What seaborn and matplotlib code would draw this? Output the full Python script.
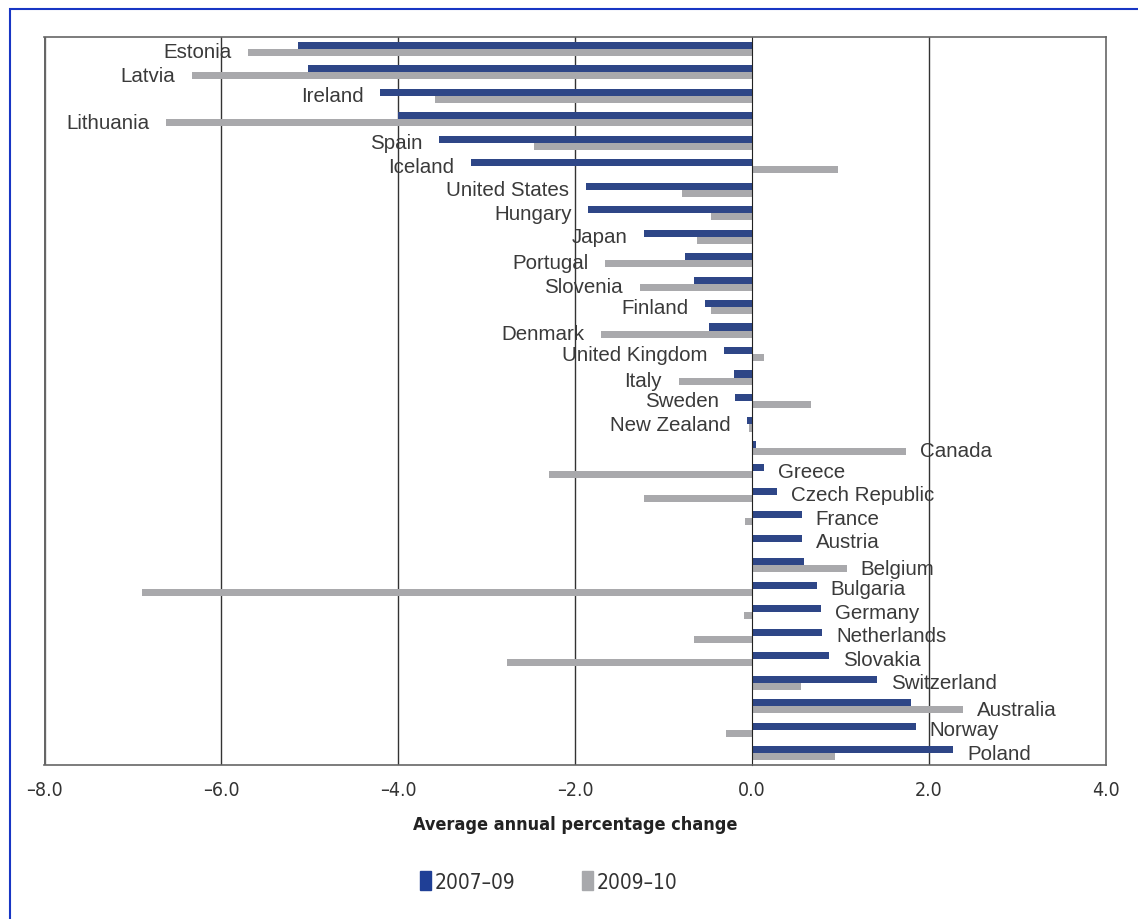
import numpy as np
import pandas as pd
import matplotlib
matplotlib.use("Agg")
import matplotlib.pyplot as plt
import seaborn as sns
from matplotlib.patches import Rectangle
from matplotlib import font_manager

# values (average annual % change)
countries = ["Estonia", "Latvia", "Ireland", "Lithuania", "Spain", "Iceland",
             "United States", "Hungary", "Japan", "Portugal", "Slovenia", "Finland",
             "Denmark", "United Kingdom", "Italy", "Sweden", "New Zealand", "Canada",
             "Greece", "Czech Republic", "France", "Austria", "Belgium", "Bulgaria",
             "Germany", "Netherlands", "Slovakia", "Switzerland", "Australia",
             "Norway", "Poland"]
chg_0709 = [-5.13, -5.02, -4.20, -4.00, -3.54, -3.18, -1.88, -1.85, -1.22, -0.76,
            -0.66, -0.53, -0.49, -0.32, -0.20, -0.19, -0.06, 0.04, 0.14, 0.28,
            0.56, 0.56, 0.59, 0.73, 0.78, 0.79, 0.87, 1.41, 1.79, 1.85, 2.27]
chg_0910 = [-5.69, -6.33, -3.58, -6.62, -2.46, 0.97, -0.79, -0.47, -0.62, -1.66,
            -1.27, -0.47, -1.71, 0.14, -0.83, 0.67, -0.04, 1.74, -2.30, -1.22,
            -0.08, 0.01, 1.07, -6.89, -0.09, -0.66, -2.77, 0.55, 2.38, -0.30, 0.94]
periods = ["2007\u201309", "2009\u201310"]
colors = ["#1f3f96", "#a8a9ac"]

df = pd.DataFrame({"country": countries * 2,
                   "change": chg_0709 + chg_0910,
                   "period": [periods[0]] * len(countries) + [periods[1]] * len(countries)})

sns.set_style("white")
plt.rcParams["font.family"] = ["Liberation Sans", "DejaVu Sans"]

# narrow face for the axis text, if there is one
names = {f.name for f in font_manager.fontManager.ttflist}
narrow = "Liberation Sans Narrow" if "Liberation Sans Narrow" in names else "DejaVu Sans"
cond = dict(family=narrow, stretch="condensed")

fig = plt.figure(figsize=(11.38, 9.2), dpi=100)
ax = fig.add_axes([0.0387, 0.1674, 0.9333, 0.7913])

sns.barplot(data=df, y="country", x="change", hue="period", hue_order=periods,
            palette=colors, orient="h", width=0.6, linewidth=0, ax=ax)

ax.set_xlim(-8, 4)
ax.set_ylim(len(countries) - 0.5, -0.5)
ax.set_xticks(np.arange(-8, 4.1, 2))
ax.set_xticklabels([f"{v:.1f}".replace("-", "\u2013") for v in np.arange(-8, 4.1, 2)],
                   fontsize=14, color="#333333", **cond)
ax.tick_params(axis="x", direction="out", length=5, width=1, color="#555555", pad=6)

# y axis sits on zero with ticks between categories
ax.spines["left"].set_position(("data", 0))
ax.spines["left"].set_color("#222222")
ax.set_yticks(np.arange(-0.5, len(countries), 1))
ax.set_yticklabels([])
ax.tick_params(axis="y", direction="out", length=5, width=1, color="#222222")
for s in ["top", "right", "bottom"]:
    ax.spines[s].set_visible(True)
    ax.spines[s].set_color("#666666")
    ax.spines[s].set_linewidth(1.2)
for xv in [-6, -4, -2, 2]:
    ax.axvline(xv, color="#333333", lw=1, zorder=0.5)
ax.axvline(-8, color="#666666", lw=2.4, zorder=0.5)

ax.set_ylabel("")
ax.set_xlabel("Average annual percentage change", fontweight="bold", fontsize=13,
              color="#222222", labelpad=11, **cond)

# country labels beside the bars, side follows the sign of 2007-09
for i, (c, a, b) in enumerate(zip(countries, chg_0709, chg_0910)):
    if a < 0:
        xe = min(a, b, 0)
        off, ha = -12, "right"
        lower = b < a
    else:
        xe = max(a, b, 0)
        off, ha = 10, "left"
        lower = b > a
    yy = i + (0.12 if lower else 0)
    ax.annotate(c, (xe, yy), xytext=(off, 0), textcoords="offset points",
                ha=ha, va="center", fontsize=14.8, color="#3a3a3a")

ax.get_legend().remove()
handles = [Rectangle((0, 0), 1, 1, color=col) for col in colors]
fig.legend(handles, periods, loc="center", bbox_to_anchor=(0.482, 0.041), ncol=2, frameon=False,
           handlelength=0.55, handleheight=1.0, handletextpad=0.15, columnspacing=3.2,
           prop={"family": narrow, "stretch": "condensed", "size": 15})
for t in fig.legends[0].get_texts():
    t.set_color("#333333")

# blue frame around the figure
fig.patches.append(Rectangle((10 / 1138, -0.01), 1.1, 1 - 10 / 920 + 0.01, transform=fig.transFigure,
                             fill=False, edgecolor="#1836c4", lw=1.5, zorder=10))

fig.savefig("out.png", dpi=100)
